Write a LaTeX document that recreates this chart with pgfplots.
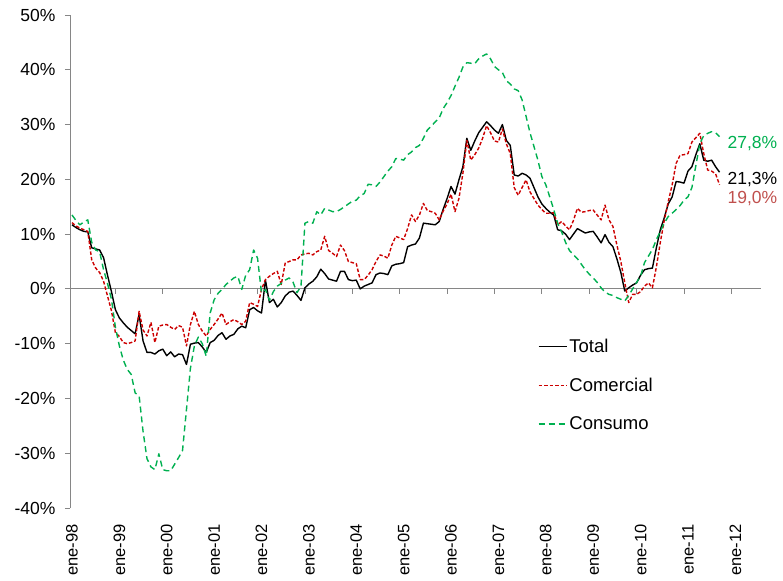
\documentclass[border=0pt]{standalone}
\usepackage{fontspec}
\setmainfont{Liberation Sans}
\usepackage{pgfplots}
\pgfplotsset{compat=1.18}
\definecolor{cgreen}{RGB}{0,176,80}
\definecolor{cred}{RGB}{204,0,0}
\definecolor{clab}{RGB}{192,80,77}
\definecolor{axgray}{RGB}{134,134,134}
\begin{document}
\begin{tikzpicture}
\begin{axis}[
  scale only axis, width=691pt, height=493pt,
  xmin=-0.5, xmax=174.5, ymin=-40, ymax=50,
  axis y line*=left, axis x line*=bottom,
  x axis line style={draw=none},
  y axis line style={draw=axgray, line width=0.8pt},
  ytick={-40,-30,...,50},
  yticklabels={-40\%,-30\%,-20\%,-10\%,0\%,10\%,20\%,30\%,40\%,50\%},
  ytick style={draw=axgray, line width=0.8pt},
  tick align=outside, major tick length=5pt,
  xtick={0,12,...,168},
  xticklabels={ene-98,ene-99,ene-00,ene-01,ene-02,ene-03,ene-04,ene-05,ene-06,ene-07,ene-08,ene-09,ene-10,ene-11,ene-12},
  xtick style={draw=none},
  xticklabel style={font=\fontsize{16.5}{19}\selectfont, yshift=-8pt, rotate=90, anchor=east},
  yticklabel style={font=\fontsize{17.5}{20}\selectfont, xshift=-6pt},
  legend style={draw=none, fill=none, at={(axis description cs:0.677,0.347)}, anchor=north west,
    font=\fontsize{18.5}{22}\selectfont, row sep=20pt, inner sep=0pt, cells={anchor=west}},
  legend image code/.code={\draw[#1] (0pt,0pt) -- (28pt,0pt);},
  clip=false,
]
\draw[axgray, line width=0.8pt] (axis cs:-0.5,0) -- (axis cs:174.5,0);
\pgfplotsinvokeforeach{11,23,35,47,59,71,83,95,107,119,131,143,155,167}{
  \draw[axgray, line width=0.8pt] (axis cs:#1,0) -- ++(0pt,-5pt);
}
\addplot[black, line width=1.4pt, line join=round] coordinates {
(0,11.7)(1,11.2)(2,10.8)(3,10.5)(4,10.4)(5,7.5)(6,7.3)(7,7.1)(8,5.7)(9,2.5)(10,-0.5)(11,-3.8)(12,-5.3)(13,-6.2)(14,-7.0)(15,-7.6)(16,-8.2)(17,-4.7)(18,-9.5)(19,-11.6)(20,-11.6)(21,-11.9)(22,-11.3)(23,-11.0)(24,-12.2)(25,-11.5)(26,-12.4)(27,-11.9)(28,-12.0)(29,-13.8)(30,-10.1)(31,-9.9)(32,-9.8)(33,-10.6)(34,-11.6)(35,-9.8)(36,-9.4)(37,-8.5)(38,-8.0)(39,-9.2)(40,-8.6)(41,-8.3)(42,-7.3)(43,-6.8)(44,-7.1)(45,-3.8)(46,-3.4)(47,-4.0)(48,-4.4)(49,1.6)(50,-2.5)(51,-1.9)(52,-3.3)(53,-2.5)(54,-1.3)(55,-0.6)(56,-0.4)(57,-1.2)(58,-2.1)(59,0.2)(60,0.9)(61,1.4)(62,2.2)(63,3.6)(64,2.8)(65,1.8)(66,1.6)(67,1.4)(68,3.2)(69,3.2)(70,1.7)(71,1.5)(72,1.6)(73,0.0)(74,0.5)(75,0.8)(76,1.1)(77,2.6)(78,2.9)(79,2.8)(80,2.6)(81,4.2)(82,4.5)(83,4.6)(84,4.8)(85,7.7)(86,8.0)(87,8.2)(88,9.3)(89,12.0)(90,11.9)(91,11.8)(92,11.7)(93,12.3)(94,14.5)(95,16.5)(96,18.7)(97,17.3)(98,19.9)(99,22.3)(100,27.5)(101,25.3)(102,27.0)(103,28.5)(104,29.5)(105,30.5)(106,29.8)(107,29.0)(108,28.4)(109,30.0)(110,27.1)(111,26.2)(112,20.8)(113,20.6)(114,21.1)(115,20.8)(116,20.2)(117,18.5)(118,16.8)(119,15.5)(120,14.7)(121,14.0)(122,13.5)(123,10.8)(124,10.6)(125,10.0)(126,9.0)(127,10.0)(128,11.0)(129,10.6)(130,10.2)(131,10.4)(132,10.5)(133,9.5)(134,8.4)(135,9.9)(136,8.5)(137,7.7)(138,5.5)(139,3.0)(140,-0.4)(141,0.2)(142,0.7)(143,1.1)(144,2.5)(145,3.5)(146,3.7)(147,3.8)(148,7.5)(149,10.8)(150,13.0)(151,15.5)(152,16.8)(153,19.6)(154,19.5)(155,19.3)(156,21.5)(157,22.3)(158,24.5)(159,26.5)(160,23.5)(161,23.3)(162,23.5)(163,22.3)(164,21.3)
};
\addlegendentry{Total}
\addplot[cred, line width=1.4pt, dash pattern=on 3.5pt off 2pt, line join=round] coordinates {
(0,12.1)(1,11.5)(2,11.1)(3,10.8)(4,10.5)(5,5.3)(6,3.8)(7,3.0)(8,1.4)(9,-1.3)(10,-4.0)(11,-8.0)(12,-8.7)(13,-9.8)(14,-10.0)(15,-9.8)(16,-9.5)(17,-4.1)(18,-7.5)(19,-8.6)(20,-6.1)(21,-9.8)(22,-6.8)(23,-6.6)(24,-6.5)(25,-7.0)(26,-7.4)(27,-6.7)(28,-7.0)(29,-10.4)(30,-6.5)(31,-4.1)(32,-6.5)(33,-7.7)(34,-8.6)(35,-7.4)(36,-6.5)(37,-5.5)(38,-4.4)(39,-6.5)(40,-6.0)(41,-5.6)(42,-6.0)(43,-6.5)(44,-5.9)(45,-2.5)(46,-2.8)(47,-3.2)(48,-0.1)(49,1.7)(50,2.3)(51,2.8)(52,3.2)(53,0.8)(54,4.7)(55,5.0)(56,5.3)(57,5.3)(58,6.2)(59,6.4)(60,6.5)(61,6.2)(62,6.8)(63,7.1)(64,9.6)(65,7.0)(66,6.5)(67,5.9)(68,8.0)(69,7.0)(70,5.0)(71,4.8)(72,4.6)(73,1.7)(74,1.7)(75,2.5)(76,3.5)(77,5.0)(78,6.2)(79,6.0)(80,5.6)(81,8.0)(82,9.6)(83,9.3)(84,9.0)(85,11.0)(86,13.5)(87,12.3)(88,13.5)(89,15.6)(90,14.3)(91,14.1)(92,13.8)(93,12.6)(94,14.2)(95,15.5)(96,17.3)(97,14.1)(98,16.5)(99,21.1)(100,27.1)(101,23.5)(102,24.5)(103,25.7)(104,27.5)(105,29.8)(106,28.5)(107,27.0)(108,26.8)(109,29.2)(110,26.5)(111,24.7)(112,18.5)(113,17.1)(114,18.5)(115,19.9)(116,17.7)(117,16.5)(118,15.3)(119,14.5)(120,13.8)(121,13.8)(122,13.9)(123,11.7)(124,12.3)(125,11.5)(126,10.8)(127,12.5)(128,14.7)(129,14.0)(130,14.1)(131,14.3)(132,14.4)(133,13.5)(134,12.6)(135,15.3)(136,12.6)(137,11.4)(138,8.0)(139,5.0)(140,1.1)(141,-2.5)(142,-1.0)(143,-1.0)(144,-0.5)(145,0.5)(146,1.1)(147,0.2)(148,4.0)(149,8.5)(150,12.5)(151,15.9)(152,19.0)(153,22.9)(154,24.4)(155,24.5)(156,24.7)(157,26.8)(158,27.6)(159,28.4)(160,24.7)(161,21.7)(162,21.5)(163,21.0)(164,19.0)
};
\addlegendentry{Comercial}
\addplot[cgreen, line width=1.4pt, dash pattern=on 6pt off 4pt, line join=round] coordinates {
(0,13.5)(1,12.5)(2,11.7)(3,12.2)(4,12.6)(5,8.5)(6,7.1)(7,6.8)(8,3.5)(9,1.0)(10,-1.9)(11,-7.0)(12,-10.4)(13,-13.0)(14,-14.7)(15,-15.6)(16,-19.0)(17,-19.5)(18,-26.0)(19,-31.0)(20,-32.5)(21,-33.0)(22,-30.1)(23,-33.0)(24,-33.2)(25,-33.2)(26,-32.0)(27,-30.8)(28,-29.5)(29,-22.0)(30,-14.5)(31,-10.4)(32,-8.8)(33,-10.0)(34,-12.3)(35,-4.4)(36,-2.0)(37,-0.8)(38,-0.1)(39,0.8)(40,1.4)(41,2.0)(42,2.3)(43,-0.1)(44,2.5)(45,3.5)(46,7.1)(47,5.6)(48,-0.7)(49,-0.1)(50,-2.1)(51,-0.5)(52,0.5)(53,1.0)(54,1.6)(55,2.0)(56,1.2)(57,-0.7)(58,0.5)(59,12.0)(60,12.3)(61,12.0)(62,14.1)(63,13.5)(64,14.7)(65,14.4)(66,14.1)(67,14.1)(68,14.5)(69,15.0)(70,15.5)(71,16.0)(72,16.2)(73,17.0)(74,17.4)(75,19.1)(76,19.0)(77,18.7)(78,19.5)(79,20.5)(80,21.5)(81,22.3)(82,23.8)(83,23.7)(84,23.5)(85,24.5)(86,25.0)(87,25.8)(88,26.2)(89,27.5)(90,29.0)(91,29.7)(92,30.5)(93,31.2)(94,32.9)(95,34.0)(96,35.3)(97,37.0)(98,38.6)(99,40.5)(100,41.3)(101,41.2)(102,41.1)(103,42.0)(104,42.5)(105,42.9)(106,42.0)(107,40.6)(108,40.0)(109,39.5)(110,38.0)(111,37.4)(112,36.5)(113,36.2)(114,34.5)(115,31.5)(116,28.5)(117,26.0)(118,23.5)(119,20.5)(120,19.0)(121,16.8)(122,14.5)(123,12.0)(124,10.4)(125,8.5)(126,7.0)(127,6.2)(128,5.5)(129,4.5)(130,3.5)(131,2.7)(132,2.0)(133,1.2)(134,0.2)(135,-0.6)(136,-1.0)(137,-1.2)(138,-1.6)(139,-1.9)(140,-2.2)(141,-1.2)(142,0.0)(143,1.2)(144,2.3)(145,4.8)(146,6.0)(147,7.2)(148,9.0)(149,10.5)(150,12.0)(151,13.2)(152,13.8)(153,14.5)(154,15.2)(155,16.2)(156,16.8)(157,18.5)(158,22.5)(159,26.5)(160,28.0)(161,28.4)(162,28.7)(163,28.5)(164,27.8)
};
\addlegendentry{Consumo}
\node[anchor=base west, inner sep=0pt, text=cgreen, font=\fontsize{17.5}{21}\selectfont] at (axis cs:166,25.7) {27,8\%};
\node[anchor=base west, inner sep=0pt, text=black, font=\fontsize{17.5}{21}\selectfont] at (axis cs:166,19.0) {21,3\%};
\node[anchor=base west, inner sep=0pt, text=clab, font=\fontsize{17.5}{21}\selectfont] at (axis cs:166,15.5) {19,0\%};
\end{axis}
\path (-70pt,-72pt) rectangle (713pt,508pt);
\end{tikzpicture}
\end{document}
